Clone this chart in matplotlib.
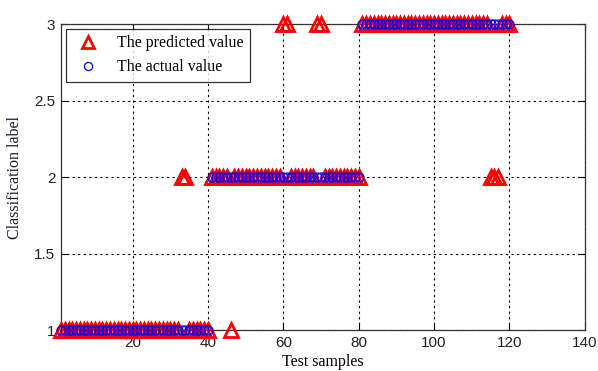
import matplotlib
matplotlib.use("Agg")
import matplotlib.pyplot as plt
import numpy as np

# Test sample index 1..120
samples = list(range(1, 121))

# Actual class labels
actual = [
    1, 1, 1, 1, 1, 1, 1, 1, 1, 1, 1, 1, 1, 1, 1, 1, 1, 1, 1, 1,
    1, 1, 1, 1, 1, 1, 1, 1, 1, 1, 1, 1, 1, 1, 1, 1, 1, 1, 1, 1,
    2, 2, 2, 2, 2, 2, 2, 2, 2, 2, 2, 2, 2, 2, 2, 2, 2, 2, 2, 2,
    2, 2, 2, 2, 2, 2, 2, 2, 2, 2, 2, 2, 2, 2, 2, 2, 2, 2, 2, 2,
    3, 3, 3, 3, 3, 3, 3, 3, 3, 3, 3, 3, 3, 3, 3, 3, 3, 3, 3, 3,
    3, 3, 3, 3, 3, 3, 3, 3, 3, 3, 3, 3, 3, 3, 3, 3, 3, 3, 3, 3,
]

# Predicted class labels
predicted = [
    1, 1, 1, 1, 1, 1, 1, 1, 1, 1, 1, 1, 1, 1, 1, 1, 1, 1, 1, 1,
    1, 1, 1, 1, 1, 1, 1, 1, 1, 1, 1, 1, 2, 2, 1, 1, 1, 1, 1, 1,
    2, 2, 2, 2, 2, 1, 2, 2, 2, 2, 2, 2, 2, 2, 2, 2, 2, 2, 2, 3,
    3, 2, 2, 2, 2, 2, 2, 2, 3, 3, 2, 2, 2, 2, 2, 2, 2, 2, 2, 2,
    3, 3, 3, 3, 3, 3, 3, 3, 3, 3, 3, 3, 3, 3, 3, 3, 3, 3, 3, 3,
    3, 3, 3, 3, 3, 3, 3, 3, 3, 3, 3, 3, 3, 3, 2, 2, 2, 3, 3, 3,
]

x_ticks = [20, 40, 60, 80, 100, 120, 140]
y_ticks = [1, 1.5, 2, 2.5, 3]
y_ticklabels = ["1", "1.5", "2", "2.5", "3"]

fig = plt.figure(figsize=(5.98, 3.71), dpi=100)
ax = fig.add_axes([0.102, 0.11, 0.876, 0.825])

ax.plot(samples, predicted, linestyle="none", marker="^", markersize=10,
        markerfacecolor="none", markeredgecolor="red", markeredgewidth=2.0,
        label="The predicted value", clip_on=False, zorder=3)
ax.plot(samples, actual, linestyle="none", marker="o", markersize=6.5,
        markerfacecolor="none", markeredgecolor="blue", markeredgewidth=0.9,
        label="The actual value", clip_on=False, zorder=4)

ax.set_xlim(1, 140)
ax.set_ylim(1, 3)
ax.set_xticks(x_ticks)
ax.set_yticks(y_ticks)
ax.set_yticklabels(y_ticklabels)

ax.grid(True, color="black", linestyle=(0, (2, 3)), linewidth=0.8)
ax.set_axisbelow(True)
ax.tick_params(direction="in", top=True, right=True, length=5, width=0.8,
               labelsize=11, pad=4, labelcolor="#222222")
for lbl in ax.get_xticklabels() + ax.get_yticklabels():
    lbl.set_fontfamily("Liberation Sans")
for s in ax.spines.values():
    s.set_linewidth(0.9)
    s.set_color("#333333")

ax.set_xlabel("Test samples", fontfamily="Liberation Serif", fontsize=11.5,
              labelpad=3)
ax.set_ylabel("Classification label", fontfamily="Liberation Serif",
              fontsize=11.5, labelpad=8, color="#1a1a3a")

leg = ax.legend(loc="upper left", prop={"family": "Liberation Serif", "size": 11.5},
                frameon=True, fancybox=False, edgecolor="black",
                borderaxespad=0.3, handletextpad=0.8, borderpad=0.4,
                labelspacing=0.5, markerscale=0.9)
leg.get_frame().set_linewidth(0.9)

fig.savefig("out.png", dpi=100)
